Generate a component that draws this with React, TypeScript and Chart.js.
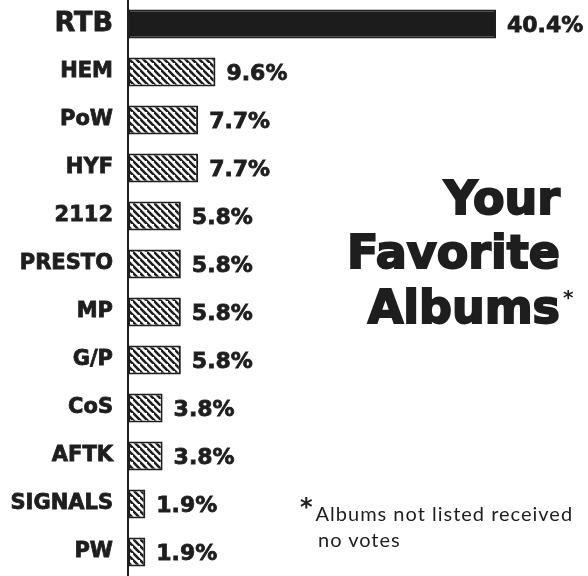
import React, { useEffect, useRef } from "react";
import { Chart, registerables } from "chart.js";

Chart.register(...registerables);

const categories = ["RTB", "HEM", "PoW", "HYF", "2112", "PRESTO", "MP", "G/P", "CoS", "AFTK", "SIGNALS", "PW"];
const votes = [40.4, 9.6, 7.7, 7.7, 5.8, 5.8, 5.8, 5.8, 3.8, 3.8, 1.9, 1.9];
const valueLabels = ["40.4%", "9.6%", "7.7%", "7.7%", "5.8%", "5.8%", "5.8%", "5.8%", "3.8%", "3.8%", "1.9%", "1.9%"];
const titleLines = ["Your", "Favorite", "Albums"];
const footnoteLines = ["Albums not listed received", "no votes"];

const INK = "#1e1e1e";
const HEAVY = "'DejaVu Sans', Lato, sans-serif";

function makeHatch(): CanvasPattern | string {
  const size = 7;
  const c = document.createElement("canvas");
  c.width = size;
  c.height = size;
  const g = c.getContext("2d");
  if (!g) return "#fff";
  g.fillStyle = "#ffffff";
  g.fillRect(0, 0, size, size);
  g.strokeStyle = INK;
  g.lineWidth = 2.6;
  g.beginPath();
  g.moveTo(-1, -1);
  g.lineTo(size + 1, size + 1);
  g.moveTo(-size - 1, -1);
  g.lineTo(1, size + 1);
  g.moveTo(size - 1, -size - 1);
  g.lineTo(2 * size + 1, size + 1);
  g.stroke();
  const p = g.createPattern(c, "repeat");
  return p || "#fff";
}

const valueLabelPlugin = {
  id: "valueLabels",
  afterDatasetsDraw(chart: any) {
    const ctx = chart.ctx;
    const meta = chart.getDatasetMeta(0);
    ctx.save();
    ctx.fillStyle = INK;
    ctx.strokeStyle = INK;
    ctx.lineWidth = 0.8;
    ctx.textBaseline = "middle";
    ctx.textAlign = "left";
    ctx.font = "bold 22px " + HEAVY;
    meta.data.forEach((bar: any, i: number) => {
      ctx.fillText(valueLabels[i], bar.x + 11, bar.y + 2);
      ctx.strokeText(valueLabels[i], bar.x + 11, bar.y + 2);
    });
    ctx.restore();
  },
};

export default function App() {
  const ref = useRef<HTMLCanvasElement | null>(null);

  useEffect(() => {
    if (!ref.current) return;
    const hatch = makeHatch();
    const chart = new Chart(ref.current, {
      type: "bar",
      data: {
        labels: categories,
        datasets: [
          {
            data: votes,
            backgroundColor: votes.map((_, i) => (i === 0 ? "#1c1c1c" : hatch)) as any,
            borderColor: INK,
            borderWidth: 2,
            borderSkipped: false,
            barPercentage: 0.6,
            categoryPercentage: 1,
          },
        ],
      },
      options: {
        indexAxis: "y",
        animation: false,
        responsive: true,
        maintainAspectRatio: false,
        layout: { padding: 0 },
        plugins: {
          legend: { display: false },
          tooltip: { enabled: false },
        },
        scales: {
          x: {
            display: false,
            min: 0,
            max: 50.5,
          },
          y: {
            afterFit: (scale: any) => {
              scale.width = 128;
              scale.paddingTop = 0;
              scale.paddingBottom = 0;
            },
            grid: { display: true, color: "rgba(0,0,0,0)", drawTicks: false },
            border: { display: true, color: INK, width: 2 },
            ticks: {
              padding: 15,
              color: INK,
              textStrokeColor: INK,
              textStrokeWidth: 0.8,
              font: (ctx: any) => ({
                family: HEAVY,
                size: ctx.index === 0 ? 27 : 21,
                weight: "bold",
              }),
            },
          },
        },
      },
      plugins: [valueLabelPlugin],
    });
    return () => chart.destroy();
  }, []);

  const titleStyle: React.CSSProperties = {
    position: "absolute",
    right: 28,
    fontFamily: HEAVY,
    fontWeight: 900,
    fontSize: 46,
    lineHeight: "46px",
    color: INK,
    whiteSpace: "nowrap",
    textAlign: "right",
    WebkitTextStroke: "2px " + INK,
  };

  return (
    <div style={{ position: "absolute", left: 0, top: 0, width: 588, height: 576, background: "#fff", overflow: "hidden" }}>
      <canvas ref={ref} />
      <div style={{ ...titleStyle, top: 175 }}>{titleLines[0]}</div>
      <div style={{ ...titleStyle, top: 229 }}>{titleLines[1]}</div>
      <div style={{ ...titleStyle, top: 284 }}>
        {titleLines[2]}
        <span style={{ position: "absolute", left: "100%", top: 3, fontSize: 20, lineHeight: "20px", marginLeft: 3, WebkitTextStroke: "0px" }}>*</span>
      </div>
      <div
        style={{
          position: "absolute",
          left: 300,
          top: 500,
          fontFamily: "Lato, 'DejaVu Sans', sans-serif",
          fontSize: 20,
          letterSpacing: 1,
          lineHeight: "26px",
          color: INK,
          whiteSpace: "nowrap",
        }}
      >
        <div>
          <span style={{ fontWeight: 900, fontSize: 24, position: "relative", top: -6, marginRight: 2, fontFamily: HEAVY }}>*</span>
          {footnoteLines[0]}
        </div>
        <div style={{ paddingLeft: 18 }}>{footnoteLines[1]}</div>
      </div>
    </div>
  );
}
